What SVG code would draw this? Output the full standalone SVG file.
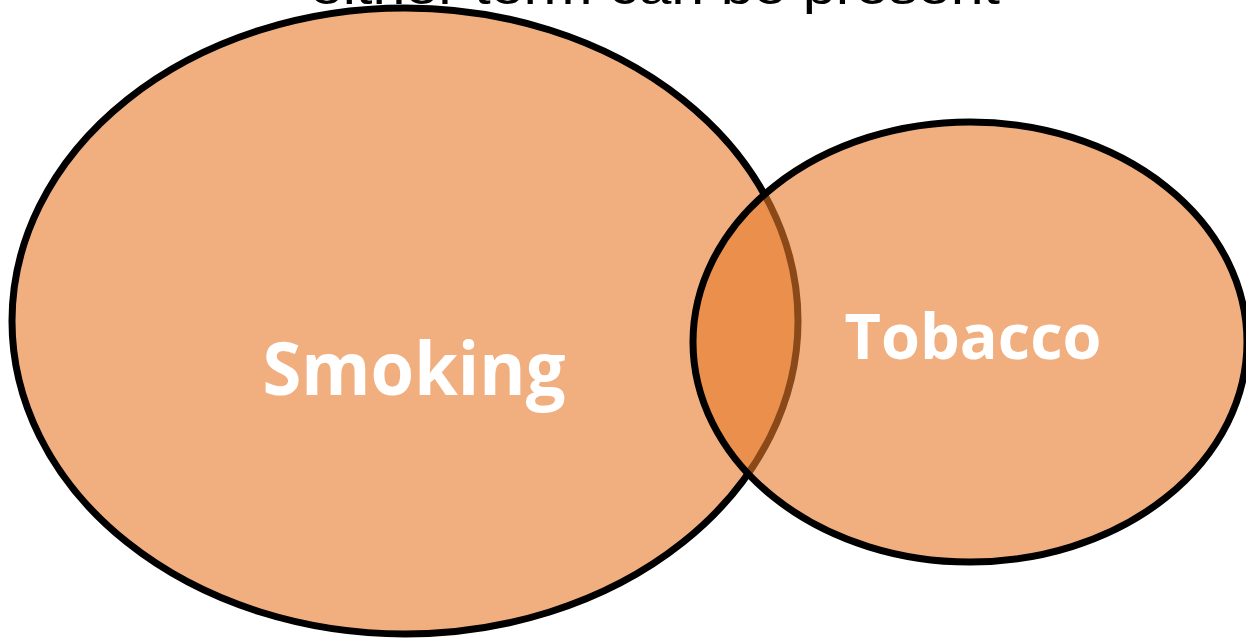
<svg xmlns="http://www.w3.org/2000/svg" width="1246" height="638" viewBox="0 0 1246 638">
<style>
.set{fill:#E87A2C;fill-opacity:0.6;stroke:#000;stroke-width:7}
.lbl{font-family:"Open Sans","Liberation Sans",sans-serif;font-weight:bold;fill:#fff;text-anchor:middle}
.cap{font-family:"Liberation Sans","DejaVu Sans",sans-serif;fill:#000;text-anchor:middle}
</style>
<rect width="1246" height="638" fill="#fff"/>
<text class="cap" x="655" y="4" font-size="50" textLength="690" lengthAdjust="spacingAndGlyphs">either term can be present</text>
<g id="smoking">
<ellipse class="set" cx="405" cy="321" rx="393" ry="313"/>
<text class="lbl" x="414" y="395" font-size="74" textLength="303" lengthAdjust="spacingAndGlyphs">Smoking</text>
</g>
<g id="tobacco">
<ellipse class="set" cx="970" cy="342" rx="277" ry="220"/>
<text class="lbl" x="973" y="359" font-size="62" textLength="257" lengthAdjust="spacingAndGlyphs">Tobacco</text>
</g>
<g id="connectors"></g>
</svg>
